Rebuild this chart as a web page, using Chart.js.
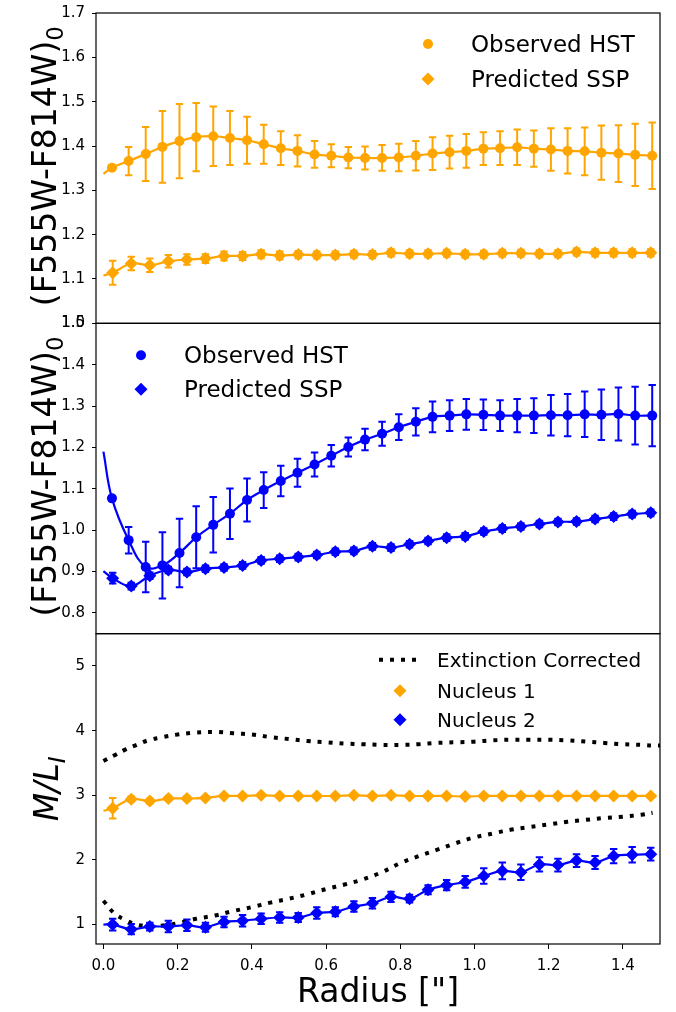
<!DOCTYPE html>
<html>
<head>
<meta charset="utf-8">
<script src="https://cdn.jsdelivr.net/npm/chart.js@4.4.1/dist/chart.umd.min.js"></script>
<style>
  html, body { margin: 0; padding: 0; background: #fff; }
  #wrap { width: 676px; height: 1012px; }
</style>
</head>
<body>
<div id="wrap"><canvas id="myChart" width="676" height="1012"></canvas></div>
<script>
// radii (arcsec) of the observed HST colour profile and of the model points
const obsRadius = [0.023, 0.068, 0.114, 0.159, 0.205, 0.250, 0.296, 0.341, 0.387, 0.432, 0.478,
    0.523, 0.569, 0.614, 0.660, 0.705, 0.751, 0.796, 0.842, 0.887, 0.933, 0.978,
    1.024, 1.069, 1.115, 1.160, 1.206, 1.251, 1.297, 1.342, 1.388, 1.433, 1.479]
const sspRadius = [0.025, 0.075, 0.125, 0.175, 0.225, 0.275, 0.325, 0.375, 0.425, 0.475,
    0.525, 0.575, 0.625, 0.675, 0.725, 0.775, 0.825, 0.875, 0.925, 0.975,
    1.025, 1.075, 1.125, 1.175, 1.225, 1.275, 1.325, 1.375, 1.425, 1.475]

// top panel (nucleus 1)
const topObs = [1.351, 1.366, 1.382, 1.398, 1.411, 1.420, 1.422, 1.418, 1.413, 1.404, 1.395,
    1.389, 1.381, 1.378, 1.374, 1.373, 1.373, 1.374, 1.378, 1.383, 1.386, 1.389,
    1.394, 1.395, 1.397, 1.394, 1.392, 1.389, 1.388, 1.385, 1.383, 1.380, 1.378]
const topObsErr = [0.005, 0.032, 0.061, 0.081, 0.084, 0.077, 0.067, 0.061, 0.053, 0.044, 0.038,
    0.035, 0.030, 0.026, 0.024, 0.026, 0.029, 0.031, 0.033, 0.037, 0.037, 0.038,
    0.037, 0.038, 0.040, 0.041, 0.048, 0.051, 0.054, 0.061, 0.064, 0.070, 0.075]
const topSsp = [1.114, 1.135, 1.131, 1.140, 1.144, 1.146, 1.152, 1.152, 1.156, 1.153,
    1.155, 1.154, 1.154, 1.156, 1.155, 1.159, 1.157, 1.157, 1.158, 1.156,
    1.156, 1.158, 1.158, 1.157, 1.157, 1.161, 1.159, 1.159, 1.159, 1.159]
const topSspErr = [0.027, 0.015, 0.015, 0.014, 0.012, 0.010, 0.010, 0.009, 0.009, 0.009,
    0.008, 0.008, 0.008, 0.008, 0.008, 0.008, 0.008, 0.008, 0.008, 0.008,
    0.008, 0.008, 0.008, 0.008, 0.008, 0.008, 0.008, 0.008, 0.008, 0.008]
const topFitStart = [1.337, 1.108]   // fitted curves at r = 0 (observed, ssp)

// middle panel (nucleus 2)
const midObs = [1.077, 0.976, 0.911, 0.915, 0.945, 0.983, 1.013, 1.040, 1.073, 1.097, 1.119,
    1.139, 1.159, 1.180, 1.201, 1.219, 1.233, 1.249, 1.262, 1.274, 1.277, 1.280,
    1.279, 1.277, 1.277, 1.277, 1.278, 1.278, 1.280, 1.279, 1.281, 1.277, 1.277]
const midObsErr = [0.005, 0.032, 0.061, 0.080, 0.083, 0.075, 0.067, 0.061, 0.052, 0.043, 0.037,
    0.034, 0.029, 0.026, 0.023, 0.026, 0.029, 0.031, 0.033, 0.037, 0.037, 0.037,
    0.037, 0.037, 0.040, 0.042, 0.049, 0.051, 0.055, 0.061, 0.064, 0.070, 0.074]
const midSsp = [0.884, 0.865, 0.890, 0.904, 0.899, 0.907, 0.910, 0.915, 0.927, 0.931,
    0.935, 0.940, 0.948, 0.950, 0.961, 0.958, 0.966, 0.974, 0.982, 0.985,
    0.997, 1.004, 1.009, 1.015, 1.020, 1.021, 1.027, 1.033, 1.039, 1.042]
const midSspErr = [0.013, 0.008, 0.008, 0.008, 0.008, 0.008, 0.008, 0.008, 0.008, 0.008,
    0.008, 0.008, 0.008, 0.008, 0.008, 0.008, 0.008, 0.008, 0.008, 0.008,
    0.008, 0.008, 0.008, 0.008, 0.008, 0.008, 0.008, 0.008, 0.008, 0.008]
const midFitStart = [1.19, 0.901]

// bottom panel, mass-to-light ratio
const nuc1ML = [2.80, 2.94, 2.91, 2.95, 2.95, 2.96, 2.99, 2.99, 3.00, 2.99,
    2.99, 2.99, 2.99, 3.00, 2.99, 3.00, 2.99, 2.99, 2.99, 2.98,
    2.99, 2.99, 2.99, 2.99, 2.99, 2.99, 2.99, 2.99, 2.99, 2.99]
const nuc1Err = [0.16, 0.04, 0.04, 0.03, 0.03, 0.03, 0.02, 0.02, 0.02, 0.02,
    0.02, 0.02, 0.02, 0.02, 0.02, 0.02, 0.02, 0.02, 0.02, 0.02,
    0.02, 0.02, 0.02, 0.02, 0.02, 0.02, 0.02, 0.02, 0.02, 0.02]
const nuc2ML = [1.00, 0.93, 0.97, 0.97, 0.99, 0.96, 1.04, 1.06, 1.09, 1.11,
    1.11, 1.18, 1.20, 1.28, 1.33, 1.43, 1.40, 1.54, 1.61, 1.66,
    1.75, 1.83, 1.81, 1.93, 1.92, 1.99, 1.96, 2.06, 2.08, 2.09]
const nuc2Err = [0.09, 0.08, 0.06, 0.09, 0.09, 0.07, 0.08, 0.09, 0.08, 0.08,
    0.07, 0.09, 0.07, 0.08, 0.08, 0.08, 0.06, 0.07, 0.08, 0.09,
    0.12, 0.13, 0.12, 0.11, 0.10, 0.10, 0.10, 0.11, 0.12, 0.10]
const mlFitStart = [2.76, 1.00]

// extinction corrected M/L curves
const extRadius = [0.00, 0.03, 0.06, 0.09, 0.12, 0.15, 0.20, 0.25, 0.30, 0.35, 0.40, 0.45,
    0.50, 0.55, 0.60, 0.65, 0.70, 0.75, 0.80, 0.85, 0.90, 0.95, 1.00, 1.05,
    1.10, 1.15, 1.20, 1.25, 1.30, 1.35, 1.40, 1.45, 1.48, 1.50]
const ext1 = [3.53, 3.62, 3.71, 3.78, 3.85, 3.89, 3.94, 3.97, 3.98, 3.96, 3.94, 3.90,
    3.87, 3.84, 3.82, 3.80, 3.79, 3.78, 3.78, 3.79, 3.81, 3.82, 3.83, 3.85,
    3.86, 3.86, 3.86, 3.85, 3.83, 3.81, 3.79, 3.78, 3.77, 3.77]
const ext2 = [1.37, 1.17, 1.07, 1.00, 0.98, 0.98, 1.02, 1.09, 1.14, 1.21, 1.27, 1.34,
    1.40, 1.47, 1.55, 1.62, 1.70, 1.81, 1.95, 2.06, 2.16, 2.26, 2.35, 2.41,
    2.47, 2.51, 2.55, 2.59, 2.62, 2.65, 2.67, 2.70, 2.73, null]

const xTicks = [0.0, 0.2, 0.4, 0.6, 0.8, 1.0, 1.2, 1.4]
const topTicks = [1.0, 1.1, 1.2, 1.3, 1.4, 1.5, 1.6, 1.7]
const midTicks = [0.8, 0.9, 1.0, 1.1, 1.2, 1.3, 1.4, 1.5]
const mlTicks = [1, 2, 3, 4, 5]

const ORANGE = '#ffa500'
const BLUE = '#0000ff'
const FONT = '"DejaVu Sans", sans-serif'

function pairs(xs, ys) {
    return xs.map((x, i) => ({ x: x, y: ys[i] }))
}

function markerSet(xs, ys, errs, colour, shape, axis) {
    return {
        data: pairs(xs, ys),
        errors: errs,
        yAxisID: axis,
        showLine: false,
        pointStyle: shape,
        pointRadius: shape === 'circle' ? 5 : 6.5,
        backgroundColor: colour,
        borderColor: colour,
        borderWidth: 0,
        order: 0,
    }
}

function curveSet(xs, ys, start, colour, axis) {
    return {
        data: pairs([0].concat(xs), [start].concat(ys)),
        yAxisID: axis,
        showLine: true,
        pointRadius: 0,
        borderColor: colour,
        borderWidth: 2.2,
        tension: 0.4,
        order: 1,
    }
}

function dottedSet(ys) {
    return {
        data: pairs(extRadius, ys),
        yAxisID: 'yBot',
        showLine: true,
        pointRadius: 0,
        borderColor: '#000',
        borderWidth: 4,
        borderDash: [4, 7],
        borderCapStyle: 'butt',
        tension: 0.4,
        spanGaps: false,
        order: 2,
    }
}

function yScale(min, max, ticks, digits) {
    return {
        type: 'linear',
        position: 'left',
        stack: 'panels',
        stackWeight: 1,
        min: min,
        max: max,
        afterBuildTicks: axis => { axis.ticks = ticks.map(v => ({ value: v })) },
        afterFit: axis => {
            axis.width = 96
            axis.paddingTop = 0
            axis.paddingBottom = 0
        },
        ticks: {
            autoSkip: false,
            color: '#000',
            padding: 7,
            font: { family: FONT, size: 15 },
            callback: v => v.toFixed(digits),
        },
        grid: { drawOnChartArea: false, tickLength: 4, color: '#000', tickWidth: 1 },
        border: { display: false },
    }
}

// error bars drawn under the markers
const errorBars = {
    id: 'errorBars',
    beforeDatasetsDraw(chart) {
        const ctx = chart.ctx
        chart.data.datasets.forEach(ds => {
            if (!ds.errors) return
            const ys = chart.scales[ds.yAxisID]
            const xs = chart.scales.x
            ctx.save()
            ctx.strokeStyle = ds.backgroundColor
            ctx.lineWidth = 2
            ds.data.forEach((p, j) => {
                const e = ds.errors[j]
                const x = xs.getPixelForValue(p.x)
                const lo = ys.getPixelForValue(p.y - e)
                const hi = ys.getPixelForValue(p.y + e)
                ctx.beginPath()
                ctx.moveTo(x, lo); ctx.lineTo(x, hi)
                ctx.moveTo(x - 3.7, lo); ctx.lineTo(x + 3.7, lo)
                ctx.moveTo(x - 3.7, hi); ctx.lineTo(x + 3.7, hi)
                ctx.stroke()
            })
            ctx.restore()
        })
    },
}

function marker(ctx, shape, x, y, colour) {
    ctx.fillStyle = colour
    ctx.beginPath()
    if (shape === 'circle') {
        ctx.arc(x, y, 5, 0, Math.PI * 2)
    } else {
        ctx.moveTo(x, y - 6.5); ctx.lineTo(x + 6.5, y); ctx.lineTo(x, y + 6.5); ctx.lineTo(x - 6.5, y)
        ctx.closePath()
    }
    ctx.fill()
}

function yTitle(ctx, text, sub, italic, x, y, size) {
    const style = italic ? 'italic ' : ''
    const big = style + size + 'px ' + FONT
    const small = style + Math.round(size * 0.7) + 'px ' + FONT
    ctx.save()
    ctx.translate(x, y)
    ctx.rotate(-Math.PI / 2)
    ctx.font = big
    const w1 = ctx.measureText(text).width
    ctx.font = small
    const w2 = ctx.measureText(sub).width
    const x0 = -(w1 + w2) / 2
    ctx.fillStyle = '#000'
    ctx.textAlign = 'left'
    ctx.textBaseline = 'alphabetic'
    ctx.font = big
    ctx.fillText(text, x0, 0)
    ctx.font = small
    ctx.fillText(sub, x0 + w1, size * 0.2)
    ctx.restore()
}

// panel frames, axis titles and the legends that sit inside each panel
const decorations = {
    id: 'decorations',
    afterDraw(chart) {
        const ctx = chart.ctx
        const area = chart.chartArea
        const panels = ['yTop', 'yMid', 'yBot'].map(id => chart.scales[id])

        ctx.save()
        ctx.strokeStyle = '#000'
        ctx.lineWidth = 1.2
        panels.forEach(s => ctx.strokeRect(area.left, s.top, area.right - area.left, s.bottom - s.top))

        yTitle(ctx, '(F555W-F814W)', '0', false, 56, (panels[0].top + panels[0].bottom) / 2 - 2, 33)
        yTitle(ctx, '(F555W-F814W)', '0', false, 56, (panels[1].top + panels[1].bottom) / 2 - 2, 33)
        yTitle(ctx, 'M/L', 'I', true, 58, (panels[2].top + panels[2].bottom) / 2, 33)

        ctx.fillStyle = '#000'
        ctx.textAlign = 'center'
        ctx.textBaseline = 'alphabetic'
        ctx.font = '33px ' + FONT
        ctx.fillText('Radius ["]', (area.left + area.right) / 2, 1002)

        ctx.textAlign = 'left'
        ctx.font = '23px ' + FONT
        let t = panels[0].top
        marker(ctx, 'circle', 428, t + 31, ORANGE)
        marker(ctx, 'diamond', 428, t + 66, ORANGE)
        ctx.fillStyle = '#000'
        ctx.fillText('Observed HST', 471, t + 39)
        ctx.fillText('Predicted SSP', 471, t + 74)

        t = panels[1].top
        marker(ctx, 'circle', 141, t + 32, BLUE)
        marker(ctx, 'diamond', 141, t + 66, BLUE)
        ctx.fillStyle = '#000'
        ctx.fillText('Observed HST', 184, t + 40)
        ctx.fillText('Predicted SSP', 184, t + 74)

        t = panels[2].top
        ctx.font = '20px ' + FONT
        ctx.save()
        ctx.strokeStyle = '#000'
        ctx.lineWidth = 4
        ctx.setLineDash([4, 7])
        ctx.beginPath(); ctx.moveTo(379, t + 26); ctx.lineTo(420, t + 26); ctx.stroke()
        ctx.restore()
        marker(ctx, 'diamond', 400, t + 57, ORANGE)
        marker(ctx, 'diamond', 400, t + 86, BLUE)
        ctx.fillStyle = '#000'
        ctx.fillText('Extinction Corrected', 437, t + 33)
        ctx.fillText('Nucleus 1', 437, t + 64)
        ctx.fillText('Nucleus 2', 437, t + 93)
        ctx.restore()
    },
}

function render_chart() {
    const datasets = [
        markerSet(obsRadius, topObs, topObsErr, ORANGE, 'circle', 'yTop'),
        markerSet(sspRadius, topSsp, topSspErr, ORANGE, 'rectRot', 'yTop'),
        markerSet(obsRadius, midObs, midObsErr, BLUE, 'circle', 'yMid'),
        markerSet(sspRadius, midSsp, midSspErr, BLUE, 'rectRot', 'yMid'),
        markerSet(sspRadius, nuc1ML, nuc1Err, ORANGE, 'rectRot', 'yBot'),
        markerSet(sspRadius, nuc2ML, nuc2Err, BLUE, 'rectRot', 'yBot'),
        curveSet(obsRadius, topObs, topFitStart[0], ORANGE, 'yTop'),
        curveSet(sspRadius, topSsp, topFitStart[1], ORANGE, 'yTop'),
        curveSet(obsRadius, midObs, midFitStart[0], BLUE, 'yMid'),
        curveSet(sspRadius, midSsp, midFitStart[1], BLUE, 'yMid'),
        curveSet(sspRadius, nuc1ML, mlFitStart[0], ORANGE, 'yBot'),
        curveSet(sspRadius, nuc2ML, mlFitStart[1], BLUE, 'yBot'),
        dottedSet(ext1),
        dottedSet(ext2),
    ]

    const config = {
        type: 'scatter',
        data: { datasets: datasets },
        options: {
            responsive: false,
            animation: false,
            events: [],
            layout: { padding: { top: 13, right: 16, left: 0, bottom: 0 } },
            plugins: { legend: { display: false }, tooltip: { enabled: false } },
            scales: {
                x: {
                    type: 'linear',
                    position: 'bottom',
                    min: -0.02,
                    max: 1.5,
                    afterBuildTicks: axis => { axis.ticks = xTicks.map(v => ({ value: v })) },
                    afterFit: axis => {
                        axis.height = 68
                        axis.paddingLeft = 0
                        axis.paddingRight = 0
                    },
                    ticks: {
                        autoSkip: false,
                        maxRotation: 0,
                        color: '#000',
                        padding: 8,
                        font: { family: FONT, size: 15 },
                        callback: v => v.toFixed(1),
                    },
                    grid: { drawOnChartArea: false, tickLength: 5, color: '#000' },
                    border: { display: false },
                },
                yBot: yScale(0.7, 5.5, mlTicks, 0),
                yMid: yScale(0.75, 1.5, midTicks, 1),
                yTop: yScale(1.0, 1.7, topTicks, 1),
            },
        },
        plugins: [errorBars, decorations],
    }

    const myChart = new Chart(document.getElementById('myChart'), config)
}

document.addEventListener('DOMContentLoaded', render_chart)
</script>
</body>
</html>
